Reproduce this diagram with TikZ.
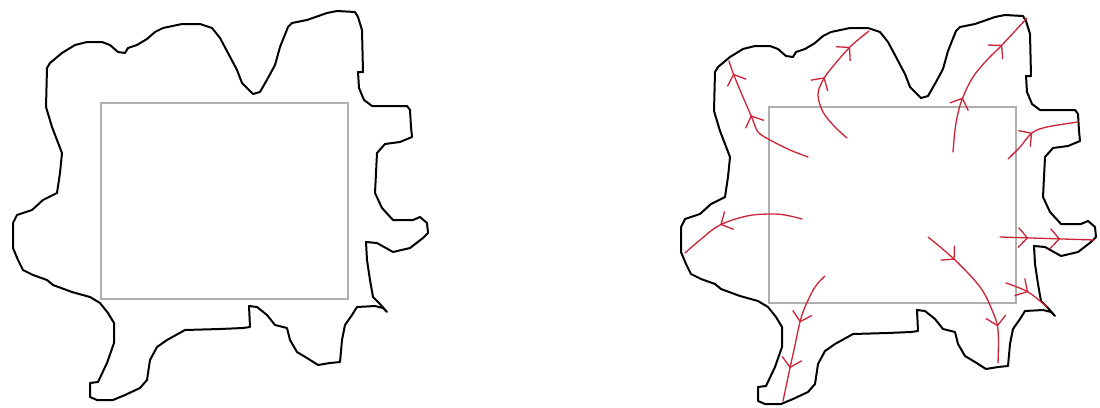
\documentclass[tikz,border=0pt]{standalone}
\usetikzlibrary{arrows.meta,decorations.markings}
\definecolor{flowred}{RGB}{205,35,55}
\definecolor{rectgray}{RGB}{175,175,175}
\tikzset{
  outline/.style={draw=black,line width=2pt,line join=round},
  innerrect/.style={draw=rectgray,line width=1.3pt},
  flow/.style={draw=flowred,line width=1.3pt,line cap=round},
  barb/.tip={Straight Barb[length=9pt,width=20pt,line width=1.3pt]},
  twomarks/.style 2 args={postaction={decorate},decoration={markings,
    mark=at position #1 with {\arrow[flowred]{barb}},
    mark=at position #2 with {\arrow[flowred]{barb}}}},
  onemark/.style={postaction={decorate},decoration={markings,
    mark=at position #1 with {\arrow[flowred]{barb}}}}
}
\newcommand\myblob{%
  \draw[outline] (47,68) -- (50,63) -- (62,53) -- (75,45) -- (87,42) -- (102,42) -- (110,45) -- (118,52) -- (125,53) -- (128,48) -- (137,45) -- (147,39) -- (155,32) -- (163,28) -- (182,24) -- (200,24) -- (212,28) -- (220,38) -- (228,53) -- (237,70) -- (242,83) -- (253,94) -- (260,92) -- (268,78) -- (275,65) -- (280,47) -- (288,27) -- (292,23) -- (307,20) -- (327,13) -- (337,11) -- (355,12) -- (358,17) -- (362,30) -- (363,72) -- (358,72) -- (359,88) -- (364,100) -- (372,106) -- (407,106) -- (410,110) -- (411,127) -- (412,137) -- (400,142) -- (385,144) -- (377,153) -- (375,193) -- (382,208) -- (393,220) -- (413,220) -- (420,217) -- (427,223) -- (428,233) -- (423,238) -- (410,248) -- (393,252) -- (377,243) -- (366,242) -- (367,260) -- (370,280) -- (373,297) -- (380,304) -- (387,312) -- (383,308) -- (375,306) -- (357,307) -- (352,315) -- (345,325) -- (342,340) -- (340,362) -- (330,363) -- (318,365) -- (307,358) -- (297,352) -- (290,340) -- (287,328) -- (275,325) -- (267,315) -- (257,307) -- (249,306) -- (250,327) -- (243,328) -- (220,329) -- (185,330) -- (167,340) -- (157,347) -- (150,360) -- (147,380) -- (140,388) -- (125,395) -- (113,400) -- (97,400) -- (90,397) -- (90,383) -- (98,382) -- (107,363) -- (114,343) -- (114,323) -- (108,313) -- (100,303) -- (90,297) -- (72,292) -- (53,285) -- (47,280) -- (33,275) -- (23,270) -- (18,260) -- (13,248) -- (13,223) -- (17,215) -- (32,210) -- (43,200) -- (57,193) -- (60,173) -- (62,153) -- (52,127) -- (46,107) -- cycle;
  \draw[innerrect] (101,103) rectangle (348,299);}
\begin{document}
\begin{tikzpicture}[x=1pt,y=-1pt]
\useasboundingbox (0,0) rectangle (1100,407);
\fill[white] (0,0) rectangle (1100,407);
% left region
\begin{scope}
  \myblob
\end{scope}
% right region
\begin{scope}[shift={(668,4)}]
  \myblob
\end{scope}
% flow lines
\draw[flow,twomarks={0.56}{0.9}] plot[smooth,tension=0.5] coordinates {(808,157) (790,150) (770,140) (758,132) (752,118) (740,90) (733,73) (729,61)};
\draw[flow,twomarks={0.53}{0.82}] plot[smooth,tension=0.6] coordinates {(847,138) (835,127) (823,112) (818,95) (822,82) (830,70) (850,47) (869,31)};
\draw[flow,twomarks={0.35}{0.77}] plot[smooth,tension=0.6] coordinates {(953,152) (955,130) (958,113) (963,97) (973,77) (987,60) (1002,45) (1027,18)};
\draw[flow,onemark={0.43}] plot[smooth,tension=0.6] coordinates {(1008,159) (1020,147) (1032,133) (1047,127) (1078,122)};
\draw[flow,onemark={0.65}] plot[smooth,tension=0.6] coordinates {(802,219) (785,215) (770,214) (747,216) (720,225) (700,240) (685,253)};
\draw[flow,twomarks={0.4}{0.75}] plot[smooth,tension=0.6] coordinates {(825,276) (815,287) (805,307) (800,322) (795,345) (790,368) (783,401)};
\draw[flow,twomarks={0.23}{0.76}] plot[smooth,tension=0.6] coordinates {(928,237) (955,260) (980,287) (992,310) (998,330) (998,363)};
\draw[flow,twomarks={0.3}{0.64}] (1000,237) -- (1094,240);
\draw[flow,onemark={0.5}] plot[smooth,tension=0.6] coordinates {(1006,283) (1028,292) (1047,307)};
\end{tikzpicture}
\end{document}
